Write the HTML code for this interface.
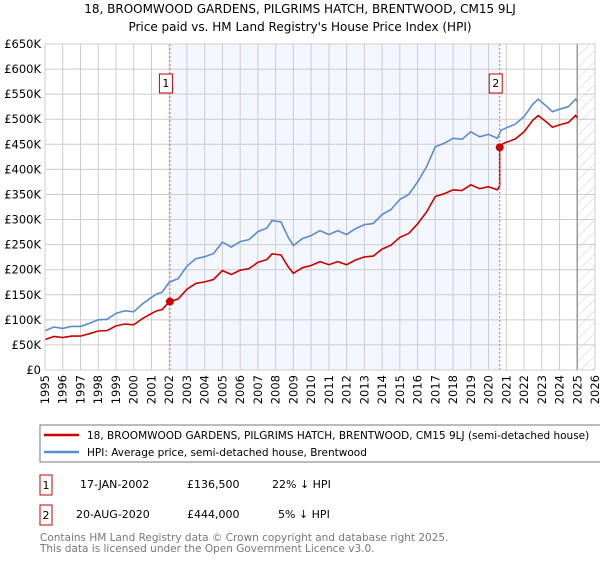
<!DOCTYPE html>
<html><head><meta charset="utf-8"><style>
body{margin:0;width:600px;height:560px;background:#fff;font-family:"DejaVu Sans","Liberation Sans",sans-serif;overflow:hidden}
svg text{font-family:"DejaVu Sans","Liberation Sans",sans-serif}
</style></head><body>
<svg id="chart" width="600" height="560" xmlns="http://www.w3.org/2000/svg">
<defs><pattern id="hatch" width="8" height="8" patternUnits="userSpaceOnUse" patternTransform="rotate(45)"><line x1="0" y1="0" x2="0" y2="8" stroke="#ccc" stroke-width="1"/></pattern></defs>
<text x="300" y="13" text-anchor="middle" font-size="12">18, BROOMWOOD GARDENS, PILGRIMS HATCH, BRENTWOOD, CM15 9LJ</text>
<text x="300" y="31" text-anchor="middle" font-size="12">Price paid vs. HM Land Registry's House Price Index (HPI)</text>
<g id="plot"></g>
<g>
<rect x="40" y="425" width="570" height="37" fill="#fff" stroke="#777"/>
<line x1="44" y1="435" x2="79" y2="435" stroke="#cc0000" stroke-width="2.5"/>
<text x="87" y="439" font-size="10.5">18, BROOMWOOD GARDENS, PILGRIMS HATCH, BRENTWOOD, CM15 9LJ (semi-detached house)</text>
<line x1="44" y1="452" x2="79" y2="452" stroke="#5b8bd0" stroke-width="2.5"/>
<text x="87" y="456" font-size="10.5">HPI: Average price, semi-detached house, Brentwood</text>
</g>
<g font-size="11">
<rect x="40" y="475" width="12" height="20" fill="#fff" stroke="#cc0000"/><text x="46" y="489" text-anchor="middle">1</text>
<text x="80" y="488">17-JAN-2002</text><text x="187" y="488">£136,500</text><text x="272" y="488">22% ↓ HPI</text>
<rect x="40" y="505" width="12" height="20" fill="#fff" stroke="#cc0000"/><text x="46" y="519" text-anchor="middle">2</text>
<text x="76" y="518">20-AUG-2020</text><text x="187" y="518">£444,000</text><text x="278" y="518">5% ↓ HPI</text>
</g>
<text x="40" y="541" font-size="10.5" fill="#777">Contains HM Land Registry data © Crown copyright and database right 2025.</text>
<text x="40" y="552" font-size="10.5" fill="#777">This data is licensed under the Open Government Licence v3.0.</text>
</svg>
<script>
const hpiYears=[1995,1995.5,1996,1996.5,1997,1997.5,1998,1998.5,1999,1999.5,2000,2000.5,2001,2001.3,2001.6,2002,2002.5,2003,2003.5,2004,2004.5,2005,2005.5,2006,2006.5,2007,2007.5,2007.8,2008.3,2008.7,2009,2009.5,2010,2010.5,2011,2011.5,2012,2012.5,2013,2013.5,2014,2014.5,2015,2015.5,2016,2016.5,2017,2017.5,2018,2018.5,2019,2019.5,2020,2020.5,2020.7,2021,2021.5,2022,2022.5,2022.8,2023.3,2023.6,2024,2024.5,2024.9,2025.0];
const hpiValues=[78,86,83,87,87,93,100,101,113,118,116,132,145,152,155,175,182,207,222,226,232,255,245,256,260,276,283,298,295,265,248,262,268,278,270,278,270,282,290,292,310,320,340,350,375,405,445,452,462,460,475,465,470,462,478,483,490,505,530,540,525,515,520,525,540,535];
const saleYears=[2002.04,2020.63];
const salePrices=[136.5,444];
const saleLabels=["1","2"];
const yTicks=[0,50,100,150,200,250,300,350,400,450,500,550,600,650];
const xTicks=[1995,1996,1997,1998,1999,2000,2001,2002,2003,2004,2005,2006,2007,2008,2009,2010,2011,2012,2013,2014,2015,2016,2017,2018,2019,2020,2021,2022,2023,2024,2025,2026];
const X0=45,X1=595,Y0=370,Y1=44;
const sx=y=>X0+(y-1995)/(2026-1995)*(X1-X0);
const sy=v=>Y0-v/650*(Y0-Y1);
const NS="http://www.w3.org/2000/svg";
const g=document.getElementById('plot');
function mk(t,a){const e=document.createElementNS(NS,t);for(const k in a)e.setAttribute(k,a[k]);g.appendChild(e);return e;}
function hpiAt(t){for(let i=1;i<hpiYears.length;i++){if(t<=hpiYears[i]){const f=(t-hpiYears[i-1])/(hpiYears[i]-hpiYears[i-1]);return hpiValues[i-1]+f*(hpiValues[i]-hpiValues[i-1]);}}return hpiValues[hpiValues.length-1];}
let e=mk('rect',{x:sx(saleYears[0]),y:Y1,width:sx(saleYears[1])-sx(saleYears[0]),height:Y0-Y1,fill:'#f3f6fd'});

e=mk('rect',{x:sx(2025),y:Y1,width:X1-sx(2025),height:Y0-Y1,fill:'url(#hatch)'});

yTicks.forEach(v=>{const l=mk('line',{x1:X0,x2:X1,y1:sy(v),y2:sy(v),stroke:'#ccc'});
const t=mk('text',{x:X0-4,y:sy(v)+4,'text-anchor':'end','font-size':'11.5'});t.textContent=v===0?'£0':'£'+v+'K';});
xTicks.forEach(y=>{const l=mk('line',{x1:sx(y),x2:sx(y),y1:Y1,y2:Y0,stroke:'#ccc'});
const t=mk('text',{x:0,y:0,'text-anchor':'end','font-size':'11.5',transform:`translate(${sx(y)+4},${Y0+5}) rotate(-90)`});t.textContent=y;});
e=mk('line',{x1:sx(2025),x2:sx(2025),y1:Y1,y2:Y0,stroke:'#999','stroke-width':1.5});

let d=hpiYears.map((y,i)=>(i?'L':'M')+sx(y).toFixed(1)+','+sy(hpiValues[i]).toFixed(1)).join('');
e=mk('path',{d:d,fill:'none',stroke:'#5b8bd0','stroke-width':1.6});

const r0=salePrices[0]/hpiAt(saleYears[0]), r1=salePrices[1]/hpiAt(saleYears[1]);
let pts=[];
hpiYears.forEach((y,i)=>{if(y<saleYears[1])pts.push([y,hpiValues[i]*r0]);});
pts.push([saleYears[1],hpiAt(saleYears[1])*r0]);pts.push([saleYears[1],salePrices[1]]);
hpiYears.forEach((y,i)=>{if(y>saleYears[1])pts.push([y,hpiValues[i]*r1]);});
d=pts.map((p,i)=>(i?'L':'M')+sx(p[0]).toFixed(1)+','+sy(p[1]).toFixed(1)).join('');
e=mk('path',{d:d,fill:'none',stroke:'#cc0000','stroke-width':1.6});

saleYears.forEach((y,i)=>{
 const l=mk('line',{x1:sx(y),x2:sx(y),y1:Y1,y2:Y0,stroke:'#e66','stroke-dasharray':'2,2'});
 const c=mk('circle',{cx:sx(y),cy:sy(salePrices[i]),r:4,fill:'#cc0000'});
 const b=mk('rect',{x:sx(y)-10.5,y:74,width:13,height:19,fill:'#fff',stroke:'#cc0000'});
 const t=mk('text',{x:sx(y)-4,y:87,'text-anchor':'middle','font-size':'11'});t.textContent=saleLabels[i];
});
e=mk('rect',{x:X0,y:Y1,width:X1-X0,height:Y0-Y1,fill:'none',stroke:'#ccc'});

</script>
</body></html>
